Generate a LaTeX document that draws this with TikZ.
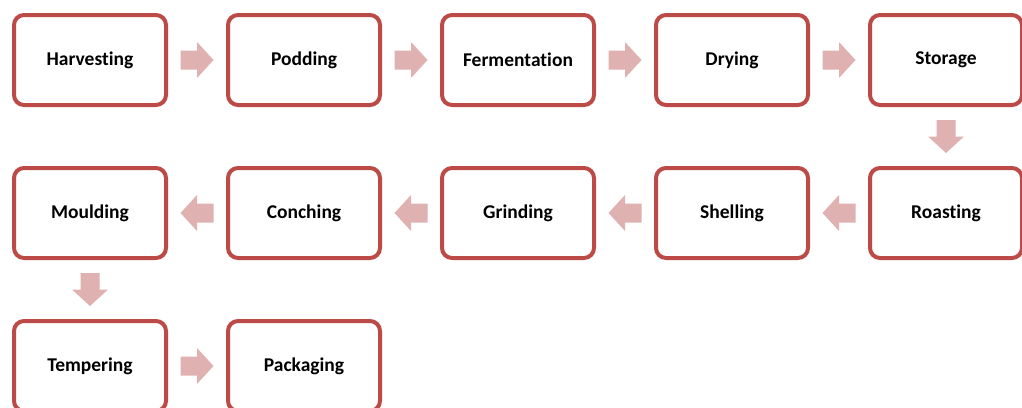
\documentclass[tikz,border=0pt]{standalone}
\usepackage{fontspec}
\setmainfont{Carlito}[Ligatures=NoCommon]
\usetikzlibrary{calc}
\definecolor{boxred}{HTML}{BC4B48}
\definecolor{arrowpink}{HTML}{DFB1B0}
\tikzset{
  stepbox/.style={draw=boxred, line width=4pt, rounded corners=10pt, fill=white,
    minimum width=152pt, minimum height=90pt, inner sep=0pt,
    font=\fontsize{19.5}{23}\selectfont\bfseries, text=black},
  blockarrow/.style={fill=arrowpink, draw=none}
}
% block arrow centred at a coordinate, rotated by #2 (0 = right, -90 = down, 180 = left)
\newcommand\blockarr[2]{%
  \begin{scope}[shift={(#1)}, rotate=#2]
    \path[blockarrow] (-16.5,-9.5) -- (0,-9.5) -- (0,-18) -- (16.5,0) -- (0,18) -- (0,9.5) -- (-16.5,9.5) -- cycle;
  \end{scope}}
\begin{document}
\begin{tikzpicture}[x=1pt,y=-1pt]
\useasboundingbox (0,0) rectangle (1022,407);
\node[stepbox] (h) at (90,60) {Harvesting};
\node[stepbox] (p) at (304,60) {Podding};
\node[stepbox] (f) at (518,60) {Fermentation};
\node[stepbox] (d) at (732,60) {Drying};
\node[stepbox] (s) at (946,60) {Storage};
\node[stepbox] (r) at (946,213) {Roasting};
\node[stepbox] (sh) at (732,213) {Shelling};
\node[stepbox] (g) at (518,213) {Grinding};
\node[stepbox] (c) at (304,213) {Conching};
\node[stepbox] (m) at (90,213) {Moulding};
\node[stepbox] (t) at (90,366) {Tempering};
\node[stepbox] (pk) at (304,366) {Packaging};
\coordinate (a1) at ($(h)!0.5!(p)$);
\coordinate (a2) at ($(p)!0.5!(f)$);
\coordinate (a3) at ($(f)!0.5!(d)$);
\coordinate (a4) at ($(d)!0.5!(s)$);
\coordinate (a5) at ($(s)!0.5!(r)$);
\coordinate (a6) at ($(r)!0.5!(sh)$);
\coordinate (a7) at ($(sh)!0.5!(g)$);
\coordinate (a8) at ($(g)!0.5!(c)$);
\coordinate (a9) at ($(c)!0.5!(m)$);
\coordinate (a10) at ($(m)!0.5!(t)$);
\coordinate (a11) at ($(t)!0.5!(pk)$);
\blockarr{a1}{0}
\blockarr{a2}{0}
\blockarr{a3}{0}
\blockarr{a4}{0}
\blockarr{a5}{-90}
\blockarr{a6}{180}
\blockarr{a7}{180}
\blockarr{a8}{180}
\blockarr{a9}{180}
\blockarr{a10}{-90}
\blockarr{a11}{0}
\end{tikzpicture}
\end{document}
